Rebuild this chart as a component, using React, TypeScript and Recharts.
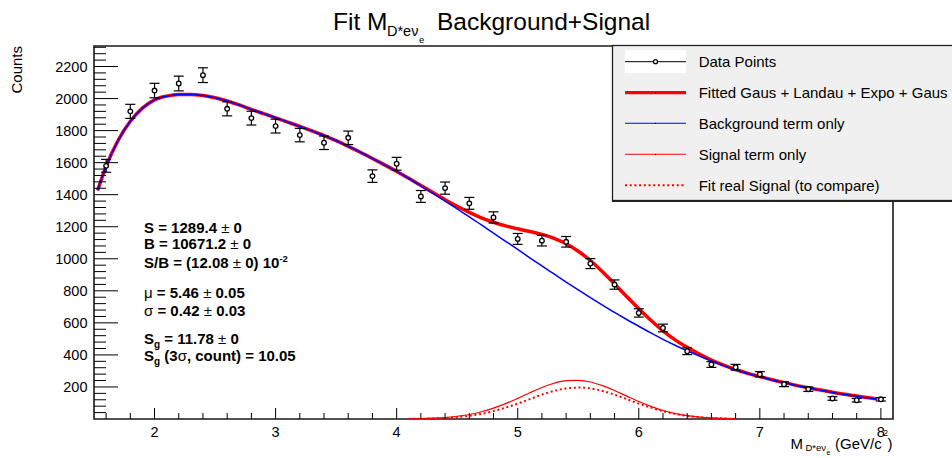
import React from "react"
import { ComposedChart, Line, Scatter, XAxis, YAxis, ErrorBar, ReferenceArea } from "recharts"

const FONT = '"Liberation Sans", Arial, Helvetica, sans-serif'

// histogram bins (bin centre, counts, error)
const BIN_X = [1.6, 1.8, 2.0, 2.2, 2.4, 2.6, 2.8, 3.0, 3.2, 3.4, 3.6, 3.8, 4.0, 4.2, 4.4, 4.6, 4.8, 5.0, 5.2, 5.4, 5.6, 5.8, 6.0, 6.2, 6.4, 6.6, 6.8, 7.0, 7.2, 7.4, 7.6, 7.8, 8.0]
const COUNTS = [1580, 1920, 2050, 2094, 2146, 1936, 1878, 1828, 1772, 1724, 1755, 1516, 1593, 1389, 1441, 1346, 1258, 1124, 1113, 1106, 970, 839, 662, 568, 423, 340, 323, 279, 217, 186, 128, 117, 123]
const COUNT_ERR = [40, 44, 45, 46, 46, 44, 43, 43, 42, 42, 42, 39, 40, 37, 38, 37, 35, 34, 33, 33, 31, 29, 26, 24, 21, 18, 18, 17, 15, 14, 11, 11, 11]

// fitted curves
const CURVE_X = [1.53, 1.6, 1.7, 1.8, 1.9, 2.0, 2.1, 2.2, 2.3, 2.4, 2.5, 2.6, 2.7, 2.8, 2.9, 3.0, 3.1, 3.2, 3.3, 3.4, 3.5, 3.6, 3.7, 3.8, 3.9, 4.0, 4.1, 4.2, 4.3, 4.4, 4.5, 4.6, 4.7, 4.8, 4.9, 5.0, 5.1, 5.2, 5.3, 5.4, 5.5, 5.6, 5.7, 5.8, 5.9, 6.0, 6.1, 6.2, 6.3, 6.4, 6.5, 6.6, 6.7, 6.8, 6.9, 7.0, 7.1, 7.2, 7.3, 7.4, 7.5, 7.6, 7.7, 7.8, 7.9, 7.97]
const BKG_Y = [1427, 1577, 1740, 1858, 1940, 1992, 2015, 2025, 2026, 2019, 2005, 1985, 1960, 1932, 1906, 1880, 1853, 1826, 1798, 1769, 1737, 1702, 1665, 1626, 1586, 1545, 1501, 1455, 1408, 1360, 1311, 1262, 1211, 1160, 1109, 1058, 1006, 955, 905, 855, 806, 758, 711, 665, 621, 579, 537, 497, 460, 426, 393, 362, 333, 307, 284, 264, 244, 226, 209, 194, 180, 166, 153, 142, 131, 124]
const TOTAL_Y = [1427, 1577, 1740, 1858, 1940, 1992, 2015, 2025, 2026, 2019, 2005, 1985, 1960, 1932, 1906, 1880, 1853, 1826, 1798, 1769, 1737, 1702, 1665, 1626, 1586, 1545, 1502, 1458, 1413, 1369, 1328, 1290, 1256, 1228, 1205, 1187, 1170, 1152, 1128, 1094, 1047, 989, 919, 843, 764, 688, 616, 550, 494, 447, 405, 368, 336, 309, 285, 265, 245, 227, 210, 195, 181, 167, 154, 143, 132, 125]

const SIG_X = [4.1, 4.2, 4.3, 4.4, 4.5, 4.6, 4.7, 4.8, 4.9, 5.0, 5.1, 5.2, 5.3, 5.4, 5.5, 5.6, 5.7, 5.8, 5.9, 6.0, 6.1, 6.2, 6.3, 6.4, 6.5, 6.6, 6.7, 6.8]
const SIG_Y = [1, 2.5, 5, 9, 17, 28, 45, 68, 96, 129, 164, 197, 223, 239, 241, 231, 208, 178, 143, 109, 79, 53, 34, 21, 12, 6.5, 3.3, 1.6]
const REAL_SIG_Y = [0.8, 1.6, 3.3, 6.4, 11.5, 19.7, 32, 49, 71, 96, 124, 152, 175, 191, 196, 191, 175, 152, 124, 96, 71, 49, 32, 19.7, 11.5, 6.4, 3.3, 1.6]

const X_TICKS = [1.6, 1.8, 2, 2.2, 2.4, 2.6, 2.8, 3, 3.2, 3.4, 3.6, 3.8, 4, 4.2, 4.4, 4.6, 4.8, 5, 5.2, 5.4, 5.6, 5.8, 6, 6.2, 6.4, 6.6, 6.8, 7, 7.2, 7.4, 7.6, 7.8, 8]
const Y_TICKS = [40, 80, 120, 160, 200, 240, 280, 320, 360, 400, 440, 480, 520, 560, 600, 640, 680, 720, 760, 800, 840, 880, 920, 960, 1000, 1040, 1080, 1120, 1160, 1200, 1240, 1280, 1320, 1360, 1400, 1440, 1480, 1520, 1560, 1600, 1640, 1680, 1720, 1760, 1800, 1840, 1880, 1920, 1960, 2000, 2040, 2080, 2120, 2160, 2200, 2240, 2280, 2320]

const LEGEND_LABELS = ["Data Points", "Fitted Gaus + Landau + Expo + Gaus", "Background term only", "Signal term only", "Fit real Signal (to compare)"]

const PLOT_LEFT = 94
const PLOT_BOTTOM = 419

const points = BIN_X.map((x, i) => ({ x, y: COUNTS[i], err: COUNT_ERR[i] }))
const bkg = CURVE_X.map((x, i) => ({ x, y: BKG_Y[i] }))
const total = CURVE_X.map((x, i) => ({ x, y: TOTAL_Y[i] }))
const sig = SIG_X.map((x, i) => ({ x, y: SIG_Y[i] }))
const realSig = SIG_X.map((x, i) => ({ x, y: REAL_SIG_Y[i] }))

const isMajor = (v: number, step: number) => Math.abs(v / step - Math.round(v / step)) < 1e-6

const XTick = (props: any) => {
  const { x, payload } = props
  const major = isMajor(payload.value, 1)
  return (
    <g>
      <line x1={x} x2={x} y1={PLOT_BOTTOM} y2={PLOT_BOTTOM - (major ? 11 : 6)} stroke="#000" strokeWidth={1} />
      {major && (
        <text x={x} y={437} textAnchor="middle" fontSize={14.5} fontFamily={FONT} fill="#000">
          {payload.value}
        </text>
      )}
    </g>
  )
}

const YTick = (props: any) => {
  const { y, payload } = props
  const major = isMajor(payload.value, 200)
  return (
    <g>
      <line x1={PLOT_LEFT} x2={PLOT_LEFT + (major ? 24 : 12)} y1={y} y2={y} stroke="#000" strokeWidth={1} />
      {major && (
        <text x={87.5} y={y + 5.5} textAnchor="end" fontSize={14.5} fontFamily={FONT} fill="#000">
          {payload.value}
        </text>
      )}
    </g>
  )
}

const DataMarker = (props: any) => {
  const { cx, cy } = props
  return <circle cx={cx} cy={cy} r={2.3} fill="#fff" stroke="#000" strokeWidth={1.3} />
}

const PM = () => <tspan fontWeight="normal">±</tspan>

function Overlay() {
  const rows = [61.7, 92.7, 123.3, 154.3, 185.3]
  return (
    <svg width={952} height={458} style={{ position: "absolute", left: 0, top: 0 }} fontFamily={FONT}>
      {/* title */}
      <text fill="#000">
        <tspan x={333} y={29.5} fontSize={24.5}>Fit M</tspan>
        <tspan x={387} y={36} fontSize={14.5}>D*eν</tspan>
        <tspan x={419} y={43} fontSize={9.5}>e</tspan>
        <tspan x={437} y={29.5} fontSize={24.5}>Background+Signal</tspan>
      </text>

      {/* axis titles */}
      <text transform="translate(21.5,46) rotate(-90)" textAnchor="end" fontSize={15} fill="#000">Counts</text>
      <text fill="#000">
        <tspan x={790.5} y={449} fontSize={15}>M</tspan>
        <tspan x={805.5} y={451} fontSize={9.5}>D*eν</tspan>
        <tspan x={826.5} y={455} fontSize={7}>e</tspan>
        <tspan x={835} y={449} fontSize={15}>(GeV/c</tspan>
        <tspan x={883} y={436} fontSize={9}>2</tspan>
        <tspan x={887.5} y={449} fontSize={15}>)</tspan>
      </text>

      {/* fit results */}
      <g fontSize={15} fontWeight="bold" fill="#000">
        <text x={144} y={232.7}>S = 1289.4 <PM /> 0</text>
        <text x={144} y={249.3}>B = 10671.2 <PM /> 0</text>
        <text x={144} y={268}>
          S/B = (12.08 <PM /> 0) 10<tspan dy={-6} fontSize={9.5}>-2</tspan>
        </text>
        <text x={144} y={298}>
          <tspan fontWeight="normal">μ</tspan> = 5.46 <PM /> 0.05
        </text>
        <text x={144} y={316}>
          <tspan fontWeight="normal">σ</tspan> = 0.42 <PM /> 0.03
        </text>
        <text x={144} y={344}>
          S<tspan dy={4} fontSize={10}>g</tspan>
          <tspan dy={-4}> = 11.78 </tspan>
          <PM /> 0
        </text>
        <text x={144} y={361}>
          S<tspan dy={4} fontSize={10}>g</tspan>
          <tspan dy={-4}> (3</tspan>
          <tspan fontWeight="normal">σ</tspan>, count) = 10.05
        </text>
      </g>

      {/* legend */}
      <rect x={612.5} y={45.5} width={360} height={155} fill="#f0f0f0" stroke="#222" strokeWidth={1.3} />
      <line x1={612} x2={952} y1={201} y2={201} stroke="#222" strokeWidth={2} />
      <rect x={625} y={50} width={61} height={23} fill="#fff" />
      <line x1={625} x2={686} y1={rows[0]} y2={rows[0]} stroke="#000" strokeWidth={1} />
      <circle cx={655.5} cy={rows[0]} r={2} fill="#fff" stroke="#000" strokeWidth={1.2} />
      <line x1={625} x2={686} y1={rows[1]} y2={rows[1]} stroke="#ff0000" strokeWidth={3.3} />
      <circle cx={655.5} cy={rows[1]} r={0.7} fill="#000" />
      <line x1={625} x2={686} y1={rows[2]} y2={rows[2]} stroke="#0000ff" strokeWidth={1.1} />
      <circle cx={655.5} cy={rows[2]} r={0.6} fill="#000" />
      <line x1={625} x2={686} y1={rows[3]} y2={rows[3]} stroke="#ff0000" strokeWidth={1.1} />
      <circle cx={655.5} cy={rows[3]} r={0.6} fill="#000" />
      <line x1={625} x2={686} y1={rows[4]} y2={rows[4]} stroke="#ff0000" strokeWidth={2} strokeDasharray="2 2.7" />
      {LEGEND_LABELS.map((label, i) => (
        <text key={label} x={698.7} y={rows[i] + 5.3} fontSize={15} fill="#000">
          {label}
        </text>
      ))}
    </svg>
  )
}

export default function App() {
  return (
    <div style={{ position: "absolute", left: 0, top: 0, width: 952, height: 458, overflow: "hidden", background: "#fff" }}>
      <ComposedChart width={952} height={458} margin={{ top: 46, right: 59, bottom: 9, left: 34 }} style={{ position: "absolute", left: 0, top: 0 }}>
        <XAxis
          dataKey="x"
          type="number"
          domain={[1.5, 8.1]}
          allowDataOverflow
          ticks={X_TICKS}
          interval={0}
          tick={(p: any) => <XTick {...p} />}
          tickLine={false}
          axisLine={false}
          height={30}
        />
        <YAxis
          type="number"
          domain={[0, 2328]}
          allowDataOverflow
          ticks={Y_TICKS}
          interval={0}
          tick={(p: any) => <YTick {...p} />}
          tickLine={false}
          axisLine={false}
          width={60}
        />
        <ReferenceArea x1={1.5} x2={8.1} y1={0} y2={2328} fill="none" stroke="#1a1a1a" strokeWidth={1.6} ifOverflow="visible" />
        <Line data={total} dataKey="y" type="monotone" stroke="#ff0000" strokeWidth={3.5} dot={false} activeDot={false} isAnimationActive={false} />
        <Line data={bkg} dataKey="y" type="monotone" stroke="#0000ff" strokeWidth={1.5} dot={false} activeDot={false} isAnimationActive={false} />
        <Line data={sig} dataKey="y" type="monotone" stroke="#ff0000" strokeWidth={1.2} dot={false} activeDot={false} isAnimationActive={false} />
        <Line data={realSig} dataKey="y" type="monotone" stroke="#ff0000" strokeWidth={2} strokeDasharray="2 2.7" dot={false} activeDot={false} isAnimationActive={false} />
        <Scatter data={points} dataKey="y" shape={<DataMarker />} isAnimationActive={false}>
          <ErrorBar dataKey="err" direction="y" width={5} stroke="#000" strokeWidth={1.2} />
        </Scatter>
      </ComposedChart>
      <Overlay />
    </div>
  )
}
